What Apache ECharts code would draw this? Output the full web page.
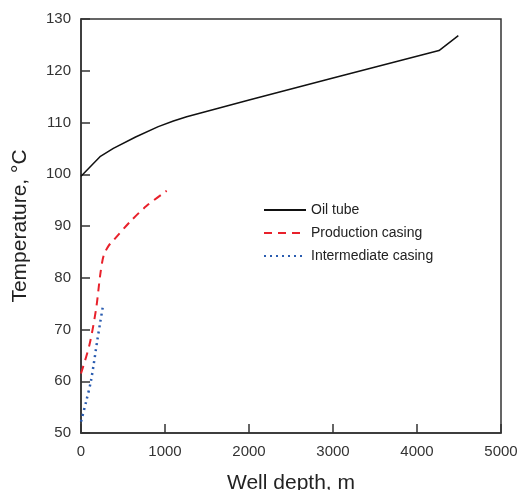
<!DOCTYPE html>
<html>
<head>
<meta charset="utf-8">
<script src="https://cdn.jsdelivr.net/npm/echarts@6/dist/echarts.min.js"></script>
<style>
  html, body { margin: 0; padding: 0; background: #fff; }
  #chart { width: 521px; height: 490px; }
</style>
</head>
<body>
<div id="chart"></div>
<script>
// [depth m, temperature °C]
var oilTube = [[0, 99.6], [226, 103.4], [385, 105], [650, 107.2], [920, 109.2], [1100, 110.3], [1258, 111.1],
  [2012, 114.4], [3000, 118.6], [4262, 123.9], [4492, 126.8]];
var productionCasing = [[0, 61.5], [100, 67], [180, 74], [230, 80.7], [270, 84.3], [330, 86.2], [385, 87.2],
  [583, 90.8], [782, 93.9], [1020, 96.8]];
var intermediateCasing = [[0, 52.2], [60, 56], [120, 60.2], [195, 68], [230, 71.5], [258, 74.2]];
var seriesNames = ['Oil tube', 'Production casing', 'Intermediate casing'];

var FONT = '"Liberation Sans", Arial, sans-serif';
var chart = echarts.init(document.getElementById('chart'));

var axisCommon = {
  axisLine: { lineStyle: { color: '#333', width: 1.5 } },
  axisTick: { inside: true, length: 9, lineStyle: { color: '#333', width: 1.5 } },
  splitLine: { show: false },
  nameTextStyle: { color: '#222', fontSize: 21, fontFamily: FONT }
};

chart.setOption({
  animation: false,
  grid: {
    left: 81, right: 20, top: 19, bottom: 57,
    outerBoundsMode: 'none', containLabel: false,
    show: true, borderColor: '#333', borderWidth: 1.5, backgroundColor: 'transparent'
  },
  legend: {
    orient: 'vertical',
    left: 258, top: 198,
    itemWidth: 42, itemHeight: 14, itemGap: 9,
    itemStyle: { opacity: 0 },
    textStyle: { color: '#222', fontSize: 14, fontFamily: FONT },
    data: seriesNames
  },
  xAxis: Object.assign({}, axisCommon, {
    type: 'value', min: 0, max: 5000, interval: 1000,
    name: 'Well depth, m', nameLocation: 'middle', nameGap: 40,
    axisLabel: { color: '#333', fontSize: 15, fontFamily: FONT, margin: 11, formatter: function (v) { return String(v); } }
  }),
  yAxis: Object.assign({}, axisCommon, {
    type: 'value', min: 50, max: 130, interval: 10,
    name: 'Temperature, °C', nameLocation: 'middle', nameGap: 50,
    axisLabel: { color: '#333', fontSize: 15, fontFamily: FONT, margin: 10 }
  }),
  series: [
    {
      name: seriesNames[0], type: 'line', data: oilTube, symbol: 'none',
      lineStyle: { color: '#111', width: 1.5, type: 'solid' },
      itemStyle: { color: '#111' }
    },
    {
      name: seriesNames[1], type: 'line', data: productionCasing, symbol: 'none', smooth: 0.3,
      lineStyle: { color: '#e8212b', width: 2, type: [8, 6] },
      itemStyle: { color: '#e8212b' }
    },
    {
      name: seriesNames[2], type: 'line', data: intermediateCasing, symbol: 'none', smooth: 0.3,
      lineStyle: { color: '#2a5cb0', width: 2.5, type: [2, 4] },
      itemStyle: { color: '#2a5cb0' }
    }
  ]
});
</script>
</body>
</html>
